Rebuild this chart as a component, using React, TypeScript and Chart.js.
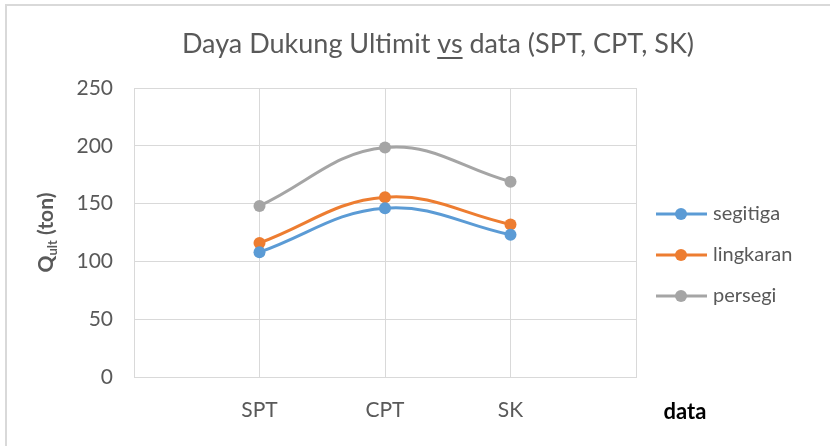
import React, { useEffect, useRef } from "react";
import { Chart, registerables } from "chart.js";

Chart.register(...registerables);

const categories = ["SPT", "CPT", "SK"];
const seriesNames = ["segitiga", "lingkaran", "persegi"];
const segitiga = [108, 146, 123];
const lingkaran = [116, 155.5, 132];
const persegi = [148, 198.5, 169];
const seriesColors = ["#5B9BD5", "#ED7D31", "#A5A5A5"];
const yTicksMax = 250;
const yStep = 50;

const FONT = "Lato";
const TEXT = "#595959";
const GRID = "#D9D9D9";

const overlay = {
  id: "overlay",
  afterDraw(chart: any) {
    const ctx = chart.ctx as CanvasRenderingContext2D;
    const area = chart.chartArea;
    ctx.save();
    // frame
    ctx.strokeStyle = GRID;
    ctx.lineWidth = 2;
    ctx.beginPath();
    ctx.moveTo(6, 446);
    ctx.lineTo(6, 5);
    ctx.lineTo(830, 5);
    ctx.stroke();

    // title with underlined "vs"
    ctx.fillStyle = TEXT;
    ctx.font = `27px ${FONT}`;
    ctx.textBaseline = "alphabetic";
    const p1 = "Daya Dukung Ultimit ";
    const p2 = "vs";
    const p3 = " data (SPT, CPT, SK)";
    const w1 = ctx.measureText(p1).width;
    const w2 = ctx.measureText(p2).width;
    const w3 = ctx.measureText(p3).width;
    const total = w1 + w2 + w3;
    const tx = 438 - total / 2;
    const ty = 53;
    ctx.textAlign = "left";
    ctx.fillText(p1, tx, ty);
    ctx.fillText(p2, tx + w1, ty);
    ctx.fillText(p3, tx + w1 + w2, ty);
    ctx.fillRect(tx + w1, ty + 4, w2, 2);

    // y title
    ctx.save();
    ctx.translate(53, (area.top + area.bottom) / 2);
    ctx.rotate(-Math.PI / 2);
    const q = "Q";
    const sub = "ult";
    const rest = " (ton)";
    ctx.font = `bold 21px ${FONT}`;
    const wq = ctx.measureText(q).width;
    const wr = ctx.measureText(rest).width;
    ctx.font = `bold 13px ${FONT}`;
    const ws = ctx.measureText(sub).width;
    const tw = wq + ws + wr;
    const x0 = -tw / 2;
    ctx.font = `bold 21px ${FONT}`;
    ctx.fillText(q, x0, 0);
    ctx.font = `bold 13px ${FONT}`;
    ctx.fillText(sub, x0 + wq, 4);
    ctx.font = `bold 21px ${FONT}`;
    ctx.fillText(rest, x0 + wq + ws, 0);
    ctx.restore();

    // x title
    ctx.font = `bold 22px ${FONT}`;
    ctx.fillStyle = "#000000";
    ctx.textAlign = "center";
    ctx.textBaseline = "middle";
    ctx.fillText("data", 685, 412);

    // legend
    const legendX = 656;
    const rows = [214, 255, 296];
    ctx.font = `20px ${FONT}`;
    ctx.textAlign = "left";
    ctx.textBaseline = "middle";
    chart.data.datasets.forEach((ds: any, i: number) => {
      const y = rows[i];
      ctx.strokeStyle = ds.borderColor;
      ctx.lineWidth = 3;
      ctx.beginPath();
      ctx.moveTo(legendX, y);
      ctx.lineTo(legendX + 51, y);
      ctx.stroke();
      ctx.fillStyle = ds.backgroundColor;
      ctx.beginPath();
      ctx.arc(legendX + 25, y, 6, 0, Math.PI * 2);
      ctx.fill();
      ctx.fillStyle = TEXT;
      ctx.fillText(ds.label, legendX + 57, y);
    });
    ctx.restore();
  },
};

export default function App() {
  const ref = useRef<HTMLCanvasElement | null>(null);
  useEffect(() => {
    if (!ref.current) return;
    const series = [segitiga, lingkaran, persegi];
    const chart = new Chart(ref.current, {
      type: "line",
      data: {
        datasets: series.map((vals, i) => ({
          label: seriesNames[i],
          data: vals.map((v, j) => ({ x: j + 1, y: v })),
          borderColor: seriesColors[i],
          backgroundColor: seriesColors[i],
          borderWidth: 3,
          pointRadius: 6,
          pointBorderWidth: 0,
          pointHoverRadius: 6,
          tension: 0.4,
          fill: false,
        })),
      },
      options: {
        animation: false,
        responsive: false,
        maintainAspectRatio: false,
        layout: { padding: { left: 0, right: 194, top: 88, bottom: 0 } },
        plugins: {
          legend: { display: false },
          title: { display: false },
          tooltip: { enabled: false },
        },
        scales: {
          x: {
            type: "linear",
            min: 0,
            max: categories.length + 1,
            afterFit: (s: any) => {
              s.height = 69;
            },
            ticks: {
              stepSize: 1,
              autoSkip: false,
              maxRotation: 0,
              padding: 21,
              color: TEXT,
              font: { family: FONT, size: 21 },
              callback: (v: any) => categories[Number(v) - 1] ?? "",
            },
            grid: { color: GRID, lineWidth: 1, drawTicks: false },
            border: { color: GRID, width: 1 },
          },
          y: {
            min: 0,
            max: yTicksMax,
            afterFit: (s: any) => {
              s.width = 134;
            },
            ticks: {
              stepSize: yStep,
              padding: 21,
              color: TEXT,
              font: { family: FONT, size: 21 },
            },
            grid: { color: GRID, lineWidth: 1, drawTicks: false },
            border: { color: GRID, width: 1 },
          },
        },
      },
      plugins: [overlay],
    });
    return () => chart.destroy();
  }, []);
  return (
    <div style={{ position: "fixed", left: 0, top: 0, width: 830, height: 446, background: "#fff" }}>
      <canvas ref={ref} width={830} height={446} style={{ width: 830, height: 446, display: "block" }} />
    </div>
  );
}
